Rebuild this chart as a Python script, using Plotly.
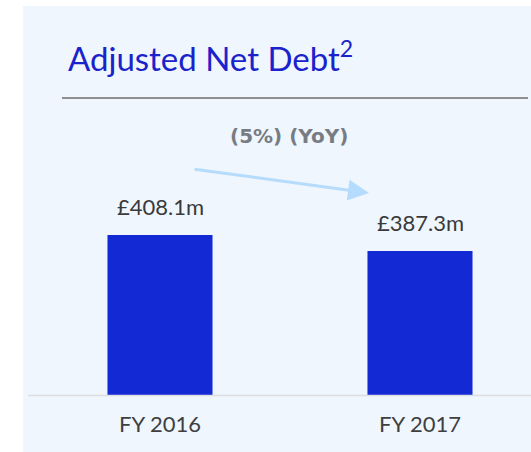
import plotly.graph_objects as go

# data
categories = ['FY 2016', 'FY 2017']
values = [408.1, 387.3]
value_labels = ['£408.1m', '£387.3m']
change_label = '(5%) (YoY)'

W, H = 531, 452
FONT = 'Lato, "Open Sans", sans-serif'
PANEL = '#eff6fd'

def px(x):
    return x / W

def py(y):
    return 1 - y / H

fig = go.Figure()

fig.add_trace(go.Bar(
    x=[0, 1],
    y=values,
    width=0.404,
    marker=dict(color='#1229d4', line=dict(width=0)),
    cliponaxis=False,
    hoverinfo='skip',
))

# value labels above the bars
for i, (v, lab) in enumerate(zip(values, value_labels)):
    fig.add_annotation(
        x=i, y=v, xref='x', yref='y', yanchor='bottom', yshift=13,
        text=lab, showarrow=False,
        font=dict(family=FONT, size=22, color='#3a3a3a'),
    )

# white frame on the left / top, panel fills the rest
fig.add_shape(type='rect', xref='paper', yref='paper',
              x0=0, x1=px(23), y0=0, y1=1,
              fillcolor='white', line=dict(width=0), layer='below')
fig.add_shape(type='rect', xref='paper', yref='paper',
              x0=0, x1=1, y0=py(6), y1=1,
              fillcolor='white', line=dict(width=0), layer='below')
fig.add_shape(type='line', xref='paper', yref='paper',
              x0=px(62), x1=px(528), y0=py(98), y1=py(98),
              line=dict(color='#8e8e8e', width=2))
fig.add_shape(type='line', xref='paper', yref='paper',
              x0=px(28), x1=1, y0=py(395.5), y1=py(395.5),
              line=dict(color='#dcdee2', width=1.5))

fig.add_annotation(
    xref='paper', yref='paper', x=px(66), y=py(80),
    xanchor='left', yanchor='bottom', showarrow=False,
    text='Adjusted Net Debt<sup>2</sup>',
    font=dict(family=FONT, size=33, color='#1a22cc'),
)

fig.add_annotation(
    xref='paper', yref='paper', x=px(289), y=py(136),
    xanchor='center', yanchor='middle', showarrow=False,
    text='<b>' + change_label + '</b>',
    font=dict(family='"DejaVu Sans", sans-serif', size=20, color='#777c83'),
)

# trend arrow
fig.add_annotation(
    xref='paper', yref='paper', x=px(369), y=py(193),
    ax=-176, ay=-24, axref='pixel', ayref='pixel',
    text='', showarrow=True, arrowhead=2, arrowsize=1.4,
    arrowwidth=3, arrowcolor='#b5dcfc',
)

fig.update_layout(
    width=W, height=H,
    margin=dict(l=0, r=0, t=0, b=0),
    paper_bgcolor=PANEL,
    plot_bgcolor='rgba(0,0,0,0)',
    showlegend=False,
    xaxis=dict(
        domain=[0, 1],
        range=[-160 / 260, (W - 160) / 260],
        tickvals=[0, 1], ticktext=categories,
        tickfont=dict(family=FONT, size=22, color='#3f3f3f'),
        ticks='', showgrid=False, zeroline=False, showline=False,
        ticklabelstandoff=14,
    ),
    yaxis=dict(
        domain=[py(395), py(100)],
        range=[200, 200 + 295 / 0.7689],
        visible=False,
    ),
)

fig.write_html(
    'out.html',
    config={'displayModeBar': False},
    post_script=("document.body.style.margin='0';"
                 "document.body.style.overflow='hidden';"
                 "document.body.style.background='" + PANEL + "';"),
)
